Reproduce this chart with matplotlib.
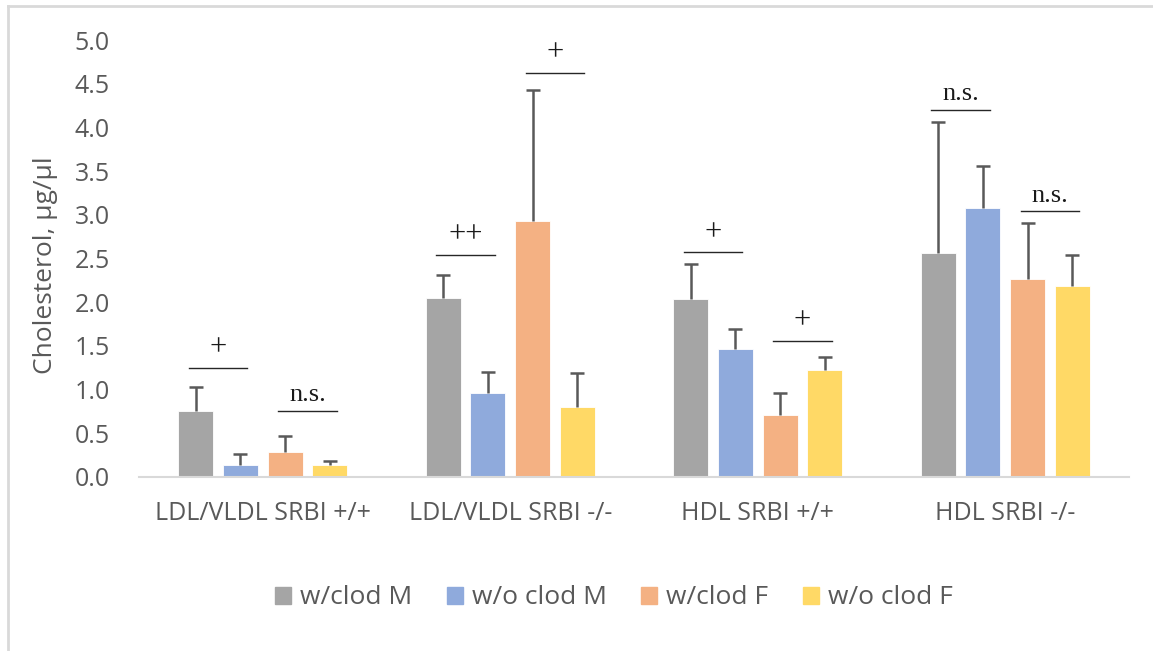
import matplotlib
matplotlib.use("Agg")
import matplotlib.pyplot as plt
from matplotlib.lines import Line2D
import numpy as np

categories = ["LDL/VLDL SRBI +/+", "LDL/VLDL SRBI -/-", "HDL SRBI +/+", "HDL SRBI -/-"]
series_names = ["w/clod M", "w/o clod M", "w/clod F", "w/o clod F"]
wclod_M = [0.75, 2.05, 2.04, 2.56]
woclod_M = [0.14, 0.96, 1.46, 3.08]
wclod_F = [0.29, 2.93, 0.71, 2.27]
woclod_F = [0.14, 0.80, 1.22, 2.19]
err_wclod_M = [0.28, 0.26, 0.40, 1.50]
err_woclod_M = [0.12, 0.24, 0.23, 0.48]
err_wclod_F = [0.18, 1.50, 0.25, 0.64]
err_woclod_F = [0.04, 0.39, 0.15, 0.35]
yticks = [0.0, 0.5, 1.0, 1.5, 2.0, 2.5, 3.0, 3.5, 4.0, 4.5, 5.0]

# significance annotations: (group, pair, line level, label)
annot_group = [0, 0, 1, 1, 2, 2, 3, 3]
annot_pair = [0, 1, 0, 1, 0, 1, 0, 1]
annot_level = [1.25, 0.755, 2.54, 4.62, 2.57, 1.556, 4.20, 3.04]
annot_label = ["+", "n.s.", "++", "+", "+", "+", "n.s.", "n.s."]

values = [wclod_M, woclod_M, wclod_F, woclod_F]
errors = [err_wclod_M, err_woclod_M, err_wclod_F, err_woclod_F]
colors = ["#A5A5A5", "#8FAADC", "#F4B183", "#FFD966"]

plt.rcParams['font.family'] = ['Open Sans', 'DejaVu Sans']
fig = plt.figure(figsize=(11.53, 6.51), dpi=100)
ax = fig.add_axes([139/1153, 1-477/651, (1129-139)/1153, (477-40)/651])

x = np.arange(len(categories))
step = 0.181
width = 0.141
offsets = (np.arange(4) - 1.5) * step
for i in range(4):
    xs = x + offsets[i]
    v = np.array(values[i])
    e = np.array(errors[i])
    ax.bar(xs, v, width, color=colors[i], edgecolor='white',
           linewidth=0.6, label=series_names[i], zorder=2)
    ax.vlines(xs, v, v + e, color='#595959', lw=1.8, zorder=3)
    ax.plot(xs, v + e, linestyle='none', marker='_', markersize=10,
            markeredgewidth=1.8, color='#595959', zorder=3)

ax.set_xlim(-0.5, 3.5)
ax.set_ylim(0, 5.0)
ax.set_yticks(yticks)
ax.set_yticklabels([f"{t:.1f}" for t in yticks])
ax.set_xticks(x)
ax.set_xticklabels(categories)
ax.tick_params(axis='both', length=0, labelcolor='#595959')
ax.tick_params(axis='y', pad=21, labelsize=18)
ax.tick_params(axis='x', pad=17, labelsize=18)
for s in ['top', 'right', 'left']:
    ax.spines[s].set_visible(False)
ax.spines['bottom'].set_color('#D9D9D9')
ax.spines['bottom'].set_linewidth(1.5)
ax.set_ylabel("Cholesterol, μg/μl", fontsize=19, color='#595959')
ax.yaxis.set_label_coords((58-139)/990, (477-265)/437)

half = 0.118
for g, p, lvl, lab in zip(annot_group, annot_pair, annot_level, annot_label):
    cx = g + (offsets[0] + offsets[1]) / 2 if p == 0 else g + (offsets[2] + offsets[3]) / 2
    ax.plot([cx - half, cx + half], [lvl, lvl], color='#262626', lw=1.0, zorder=4)
    is_plus = '+' in lab
    ax.annotate(lab, (cx, lvl), xytext=(0, 9 if is_plus else 7), textcoords='offset points',
                ha='center', va='baseline', fontsize=22 if is_plus else 19,
                family='Liberation Serif', color='#1a1a1a')

handles = [plt.Rectangle((0, 0), 1, 1, color=c) for c in colors]
fig.legend(handles, series_names, loc='center', bbox_to_anchor=(614/1153, 1-598/651),
           ncol=4, frameon=False, fontsize=19, handlelength=0.6, handleheight=0.6,
           handletextpad=0.35, columnspacing=1.3, labelcolor='#595959')

fig.add_artist(Line2D([8/1153, 8/1153], [0, 1-6/651], color='#D9D9D9', lw=2, transform=fig.transFigure))
fig.add_artist(Line2D([8/1153, 1], [1-6/651, 1-6/651], color='#D9D9D9', lw=2, transform=fig.transFigure))

fig.savefig("out.png", dpi=100)
